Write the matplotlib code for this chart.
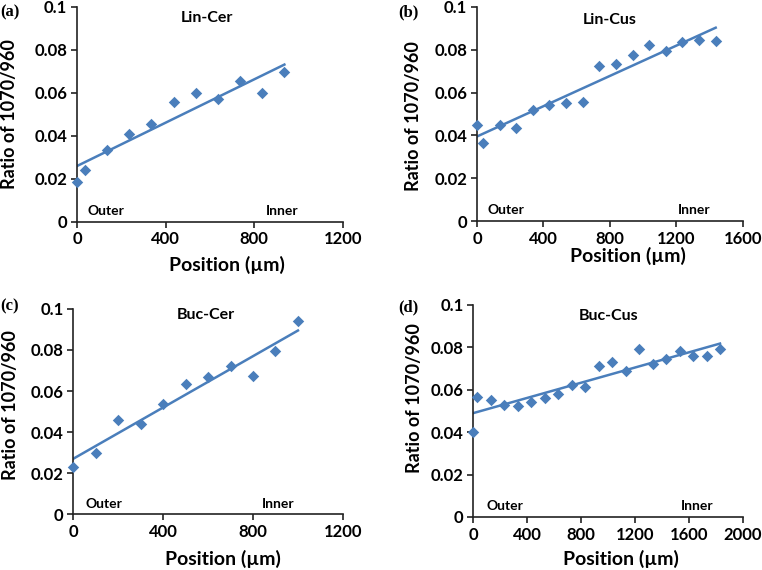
import numpy as np
import matplotlib
matplotlib.use("Agg")
import matplotlib.pyplot as plt

# data
lin_cer_x = [0, 36, 136, 236, 336, 436, 536, 636, 736, 836, 936]
lin_cer_y = [0.0184, 0.0240, 0.0333, 0.0409, 0.0457, 0.0559, 0.0597, 0.0572, 0.0653, 0.0600, 0.0698]

lin_cus_x = [0, 36, 136, 236, 336, 436, 536, 636, 736, 836, 936, 1036, 1136, 1236, 1336, 1436]
lin_cus_y = [0.0447, 0.0363, 0.0447, 0.0436, 0.0519, 0.0542, 0.0550, 0.0558,
             0.0722, 0.0733, 0.0773, 0.0820, 0.0795, 0.0834, 0.0844, 0.0841]

buc_cer_x = [0, 100, 200, 300, 400, 500, 600, 700, 800, 900, 1000]
buc_cer_y = [0.0232, 0.0300, 0.0459, 0.0437, 0.0539, 0.0636, 0.0667, 0.0722, 0.0674, 0.0795, 0.0943]

buc_cus_x = [0, 30, 130, 230, 330, 430, 530, 630, 730, 830, 930, 1030, 1130, 1230,
             1330, 1430, 1530, 1630, 1730, 1830]
buc_cus_y = [0.0402, 0.0565, 0.0551, 0.0527, 0.0523, 0.0540, 0.0560, 0.0582, 0.0622, 0.0615,
             0.0710, 0.0733, 0.0688, 0.0791, 0.0721, 0.0747, 0.0782, 0.0757, 0.0757, 0.0791]

titles = ["Lin-Cer", "Lin-Cus", "Buc-Cer", "Buc-Cus"]
panel_tags = ["(a)", "(b)", "(c)", "(d)"]
x_ticks = [[0, 400, 800, 1200], [0, 400, 800, 1200, 1600],
           [0, 400, 800, 1200], [0, 400, 800, 1200, 1600, 2000]]
y_ticks = [0, 0.02, 0.04, 0.06, 0.08, 0.1]
y_tick_labels = ["0", "0.02", "0.04", "0.06", "0.08", "0.1"]

BLUE = "#4a7ebb"
FONT = "Lato"

fig = plt.figure(figsize=(7.62, 5.70), dpi=100)

# axes rectangles in figure fraction
rects = [[0.101, 0.611, 0.349, 0.377],
         [0.626, 0.612, 0.349, 0.376],
         [0.096, 0.098, 0.354, 0.360],
         [0.621, 0.093, 0.354, 0.372]]
title_pos = [(0.49, 0.95), (0.50, 0.94), (0.49, 0.97), (0.50, 0.95)]
outer_pos = [0.04, 0.04, 0.045, 0.05]
inner_pos = [0.77, 0.815, 0.76, 0.83]
xlab_pos = [(0.564, -0.16), (0.568, -0.12), (0.556, -0.175), (0.548, -0.155)]
ylab_pos = [(-0.252, 0.50), (-0.237, 0.49), (-0.233, 0.53), (-0.218, 0.56)]
tag_pos = [(0.0, 0.978), (0.522, 0.978), (0.0, 0.462), (0.522, 0.46)]

datasets = [(lin_cer_x, lin_cer_y), (lin_cus_x, lin_cus_y),
            (buc_cer_x, buc_cer_y), (buc_cus_x, buc_cus_y)]

for i, (xs, ys) in enumerate(datasets):
    ax = fig.add_axes(rects[i])
    xs = np.array(xs)
    ys = np.array(ys)

    # linear trend line over the data range
    slope, icpt = np.polyfit(xs, ys, 1)
    xl = np.array([xs.min(), xs.max()])
    ax.plot(xl, slope * xl + icpt, color=BLUE, lw=1.8, zorder=2)
    ax.scatter(xs, ys, marker="D", s=34, color=BLUE, zorder=3, clip_on=False,
               linewidths=0)

    ax.set_xlim(0, x_ticks[i][-1])
    ax.set_ylim(0, 0.1)
    ax.set_xticks(x_ticks[i])
    ax.set_yticks(y_ticks)
    ax.set_yticklabels(y_tick_labels)

    for s in ["top", "right"]:
        ax.spines[s].set_visible(False)
    for s in ["left", "bottom"]:
        ax.spines[s].set_linewidth(1.2)
        ax.spines[s].set_color("#222222")
    ax.tick_params(direction="out", length=4, width=1.2, color="#222222",
                   labelsize=12, pad=3)
    for lab in ax.get_xticklabels() + ax.get_yticklabels():
        lab.set_fontfamily(FONT)
        lab.set_fontweight("bold")

    ax.set_xlabel("Position (µm)", fontsize=14, fontweight="bold", family=FONT)
    ax.xaxis.set_label_coords(*xlab_pos[i])
    ax.set_ylabel("Ratio of 1070/960", fontsize=13, fontweight="bold", family=FONT, va="center")
    ax.yaxis.set_label_coords(*ylab_pos[i])

    ax.text(title_pos[i][0], title_pos[i][1], titles[i], transform=ax.transAxes,
            ha="center", va="center", fontsize=11.5, fontweight="bold", family=FONT)
    ax.text(outer_pos[i], 0.05, "Outer", transform=ax.transAxes,
            ha="left", va="center", fontsize=10, fontweight="bold", family=FONT)
    ax.text(inner_pos[i], 0.05, "Inner", transform=ax.transAxes,
            ha="center", va="center", fontsize=10, fontweight="bold", family=FONT)

    fig.text(tag_pos[i][0], tag_pos[i][1], panel_tags[i], ha="left", va="center",
             fontsize=12, fontweight="bold", family="Liberation Serif")

fig.savefig("out.png", dpi=100)
